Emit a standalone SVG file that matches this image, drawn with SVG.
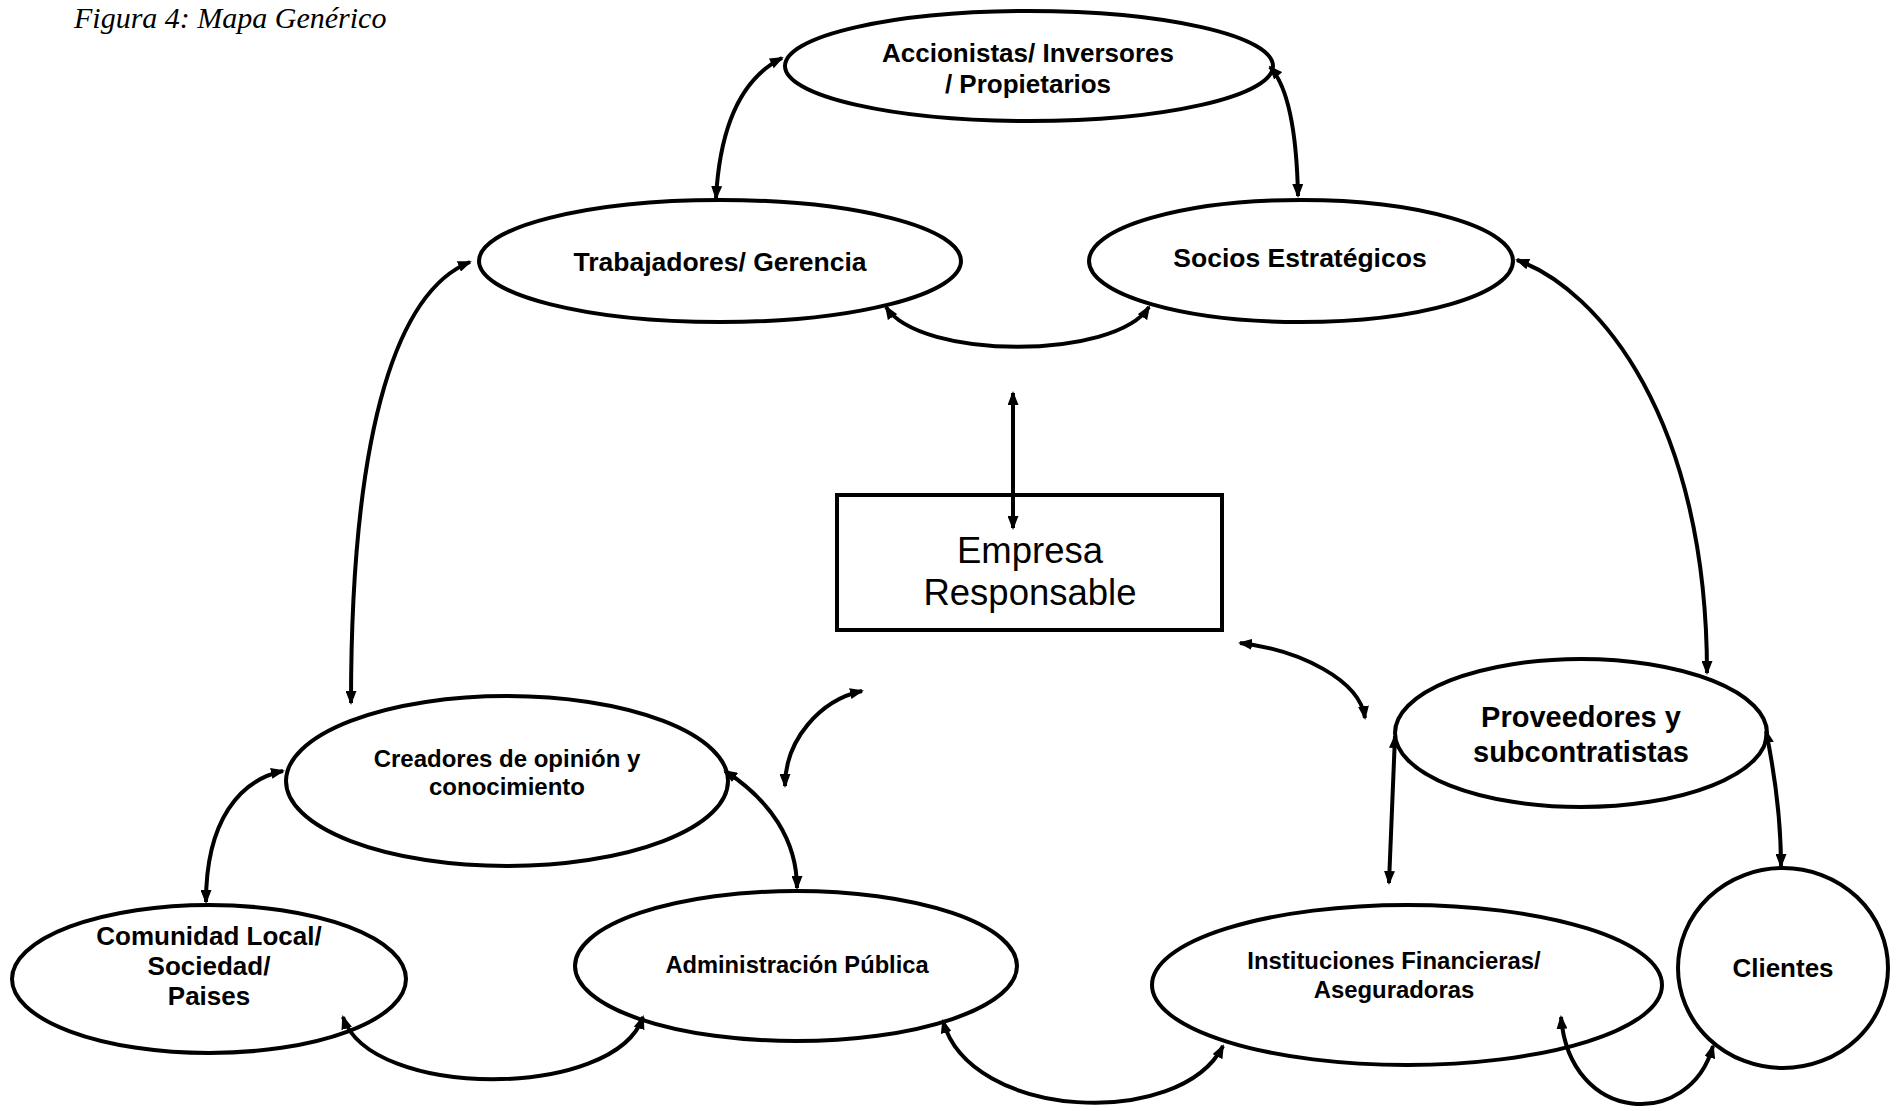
<svg xmlns="http://www.w3.org/2000/svg" width="1902" height="1111" viewBox="0 0 1902 1111">
<style>
.node{fill:#fff;stroke:#000;stroke-width:4}
.lbl{font-family:"Liberation Sans",Arial,sans-serif;font-weight:bold;fill:#000;text-anchor:middle}
.conn{fill:none;stroke:#000;stroke-width:4;marker-start:url(#ah);marker-end:url(#ah)}
</style>
<defs>
<marker id="ah" viewBox="0 0 14 11" refX="12" refY="5.5" markerWidth="14" markerHeight="11" markerUnits="userSpaceOnUse" orient="auto-start-reverse">
<path d="M0,0 L14,5.5 L0,11 z" fill="#000"/>
</marker>
</defs>
<rect width="1902" height="1111" fill="#fff"/>
<text x="74" y="28" font-family="'Liberation Serif',serif" font-style="italic" font-size="30" fill="#000">Figura 4: Mapa Genérico</text>

<g id="accionistas">
<ellipse class="node" cx="1029" cy="66" rx="244" ry="55"/>
<text class="lbl" x="1028" y="62" font-size="26">Accionistas/ Inversores</text>
<text class="lbl" x="1028" y="93" font-size="26">/ Propietarios</text>
</g>
<g id="trabajadores">
<ellipse class="node" cx="720" cy="261" rx="241" ry="61"/>
<text class="lbl" x="720" y="271" font-size="26.5">Trabajadores/ Gerencia</text>
</g>
<g id="socios">
<ellipse class="node" cx="1301" cy="261" rx="212" ry="61"/>
<text class="lbl" x="1300" y="267" font-size="26.5">Socios Estratégicos</text>
</g>
<g id="empresa">
<rect class="node" x="837" y="495" width="385" height="135"/>
<text x="1030" y="563" font-family="'Liberation Sans',Arial,sans-serif" font-size="36.5" text-anchor="middle" fill="#000">Empresa</text>
<text x="1030" y="605" font-family="'Liberation Sans',Arial,sans-serif" font-size="36.5" text-anchor="middle" fill="#000">Responsable</text>
</g>
<g id="creadores">
<ellipse class="node" cx="507" cy="781" rx="221" ry="85"/>
<text class="lbl" x="507" y="767" font-size="24">Creadores de opinión y</text>
<text class="lbl" x="507" y="795" font-size="24">conocimiento</text>
</g>
<g id="proveedores">
<ellipse class="node" cx="1581" cy="733" rx="186" ry="74"/>
<text class="lbl" x="1581" y="727" font-size="29">Proveedores y</text>
<text class="lbl" x="1581" y="762" font-size="29">subcontratistas</text>
</g>
<g id="comunidad">
<ellipse class="node" cx="209" cy="979" rx="197" ry="74"/>
<text class="lbl" x="209" y="945" font-size="26">Comunidad Local/</text>
<text class="lbl" x="209" y="975" font-size="26">Sociedad/</text>
<text class="lbl" x="209" y="1005" font-size="26">Paises</text>
</g>
<g id="administracion">
<ellipse class="node" cx="796" cy="966" rx="221" ry="75"/>
<text class="lbl" x="797" y="973" font-size="23.7">Administración Pública</text>
</g>
<g id="instituciones">
<ellipse class="node" cx="1407" cy="985" rx="255" ry="80"/>
<text class="lbl" x="1394" y="969" font-size="23.9">Instituciones Financieras/</text>
<text class="lbl" x="1394" y="998" font-size="23.9">Aseguradoras</text>
</g>
<g id="clientes">
<ellipse class="node" cx="1783" cy="968" rx="105" ry="100"/>
<text class="lbl" x="1783" y="977" font-size="26">Clientes</text>
</g>

<g id="connectors">
<path class="conn" d="M716 198 Q722 88 782 58"/>
<path class="conn" d="M1270 67 Q1296 95 1298 196"/>
<path class="conn" d="M886 307 C920 360 1115 360 1149 307"/>
<path class="conn" d="M1517 260 C1600 290 1707 420 1707 673"/>
<path class="conn" d="M470 262 C400 290 351 420 351 703"/>
<path class="conn" d="M1013 393 L1013 528"/>
<path class="conn" d="M283 771 C240 780 206 820 206 902"/>
<path class="conn" d="M725 771 C770 800 797 840 797 888"/>
<path class="conn" d="M862 691 C820 700 785 740 785 786"/>
<path class="conn" d="M1240 643 C1300 650 1360 680 1365 718"/>
<path class="conn" d="M1395 736 L1389 883"/>
<path class="conn" d="M1766 731 C1776 780 1781 820 1781 866"/>
<path class="conn" d="M343 1017 C370 1100 615 1100 643 1017"/>
<path class="conn" d="M943 1021 C970 1120 1180 1130 1223 1046"/>
<path class="conn" d="M1561 1017 C1570 1125 1690 1130 1713 1046"/>
</g>
</svg>
